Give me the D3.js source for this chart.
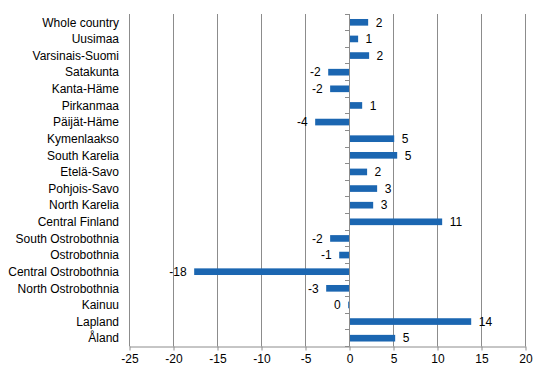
<!DOCTYPE html>
<html>
<head>
<meta charset="utf-8">
<script src="https://cdn.jsdelivr.net/npm/d3@7"></script>
<style>
  body { margin: 0; background: #fff; }
</style>
</head>
<body>
<div id="chart"></div>
<script>
// Regions, top to bottom
var categories = ["Whole country", "Uusimaa", "Varsinais-Suomi", "Satakunta", "Kanta-Häme",
  "Pirkanmaa", "Päijät-Häme", "Kymenlaakso", "South Karelia", "Etelä-Savo", "Pohjois-Savo",
  "North Karelia", "Central Finland", "South Ostrobothnia", "Ostrobothnia",
  "Central Ostrobothnia", "North Ostrobothnia", "Kainuu", "Lapland", "Åland"];
var values = [2.12, 0.98, 2.23, -2.42, -2.2, 1.44, -3.9, 5.08, 5.42, 2.0, 3.14,
  2.69, 10.53, -2.2, -1.17, -17.65, -2.65, -0.15, 13.83, 5.19];
var xTicks = [-25, -20, -15, -10, -5, 0, 5, 10, 15, 20];

var attrs = {
  svgWidth: 546,
  svgHeight: 376,
  plotLeft: 129.5,
  plotRight: 525.5,
  plotTop: 14,
  plotBottom: 346.5,
  barColor: '#1b66b1',
  gridColor: '#8c8c8c',
  textFill: '#000',
  fontSize: 12,
  defaultFont: '"Liberation Sans", Arial, sans-serif'
};

var data = categories.map(function (c, i) { return { name: c, value: values[i] }; });

var svg = d3.select('#chart').append('svg')
  .attr('width', attrs.svgWidth)
  .attr('height', attrs.svgHeight)
  .attr('font-family', attrs.defaultFont)
  .attr('font-size', attrs.fontSize);

var x = d3.scaleLinear()
  .domain([xTicks[0], xTicks[xTicks.length - 1]])
  .range([attrs.plotLeft, attrs.plotRight]);

var y = d3.scaleBand()
  .domain(categories)
  .range([attrs.plotTop, attrs.plotBottom])
  .paddingInner(0.6)
  .paddingOuter(0.3);

//Vertical gridlines
svg.append('g').selectAll('line')
  .data(xTicks)
  .enter().append('line')
  .attr('x1', d => Math.round(x(d) - 0.5) + 0.5)
  .attr('x2', d => Math.round(x(d) - 0.5) + 0.5)
  .attr('y1', attrs.plotTop)
  .attr('y2', attrs.plotBottom)
  .attr('stroke', attrs.gridColor)
  .attr('stroke-width', 1);

//Bottom axis
var xAxis = d3.axisBottom(x)
  .tickValues(xTicks)
  .tickSize(4)
  .tickSizeOuter(0)
  .tickFormat(d3.format('d'));

var gx = svg.append('g')
  .attr('transform', 'translate(0,' + attrs.plotBottom + ')')
  .call(xAxis);
gx.select('.domain').attr('stroke', attrs.gridColor);
gx.selectAll('.tick line').attr('stroke', attrs.gridColor);
gx.selectAll('.tick text')
  .attr('y', 8)
  .attr('font-size', attrs.fontSize)
  .attr('font-family', attrs.defaultFont)
  .attr('fill', attrs.textFill)
  .text(d => d < 0 ? '-' + Math.abs(d) : d);

//Category axis at zero, ticks between categories
var zeroX = Math.round(x(0) - 0.5) + 0.5;
var step = y.step();
var boundaries = d3.range(categories.length + 1).map(i => attrs.plotTop + i * step);
svg.append('g').selectAll('line')
  .data(boundaries)
  .enter().append('line')
  .attr('x1', zeroX - 4.5)
  .attr('x2', zeroX)
  .attr('y1', d => Math.round(d - 0.5) + 0.5)
  .attr('y2', d => Math.round(d - 0.5) + 0.5)
  .attr('stroke', attrs.gridColor);

//Bars
svg.append('g').selectAll('rect')
  .data(data)
  .enter().append('rect')
  .attr('x', d => d.value < 0 ? x(d.value) : zeroX + 0.5)
  .attr('width', d => d.value < 0 ? zeroX - 0.5 - x(d.value) : x(d.value) - zeroX - 0.5)
  .attr('y', d => y(d.name))
  .attr('height', y.bandwidth())
  .attr('fill', attrs.barColor);

//Value labels
svg.append('g').selectAll('text')
  .data(data)
  .enter().append('text')
  .attr('x', d => d.value < 0 ? x(d.value) - 7.5 : x(d.value) + 7.5)
  .attr('y', d => y(d.name) + y.bandwidth() / 2)
  .attr('dy', '0.35em')
  .attr('text-anchor', d => d.value < 0 ? 'end' : 'start')
  .attr('fill', attrs.textFill)
  .text(d => {
    var r = Math.round(d.value);
    return r < 0 ? '-' + Math.abs(r) : String(Math.abs(r));
  });

//Category labels
svg.append('g').selectAll('text')
  .data(categories)
  .enter().append('text')
  .attr('x', attrs.plotLeft - 10.5)
  .attr('y', d => y(d) + y.bandwidth() / 2)
  .attr('dy', '0.35em')
  .attr('text-anchor', 'end')
  .attr('fill', attrs.textFill)
  .text(d => d);
</script>
</body>
</html>
